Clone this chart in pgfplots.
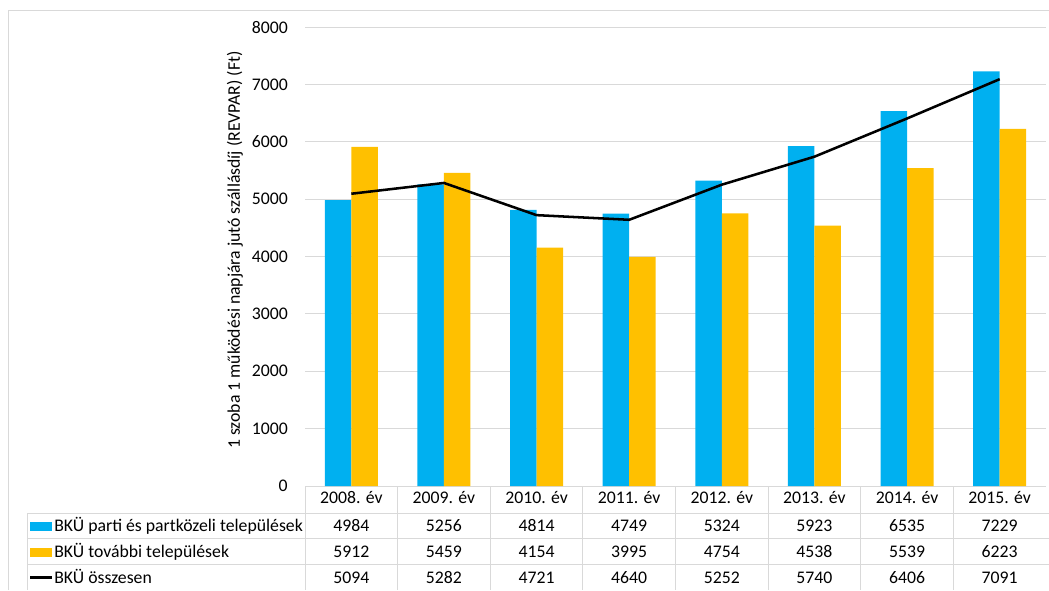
\documentclass[border=0pt]{standalone}
\usepackage{pgfplots}
\pgfplotsset{compat=1.18}
\usepackage{pgfplotstable}
\usepackage{fontspec}
\setmainfont{Carlito}

\definecolor{bkublue}{HTML}{00B0F0}
\definecolor{bkuorange}{HTML}{FFC000}
\definecolor{gridgray}{HTML}{D9D9D9}

% ev, parti, tovabbi, osszesen
\pgfplotstableread{
x a b c
0 4984 5912 5094
1 5256 5459 5282
2 4814 4154 4721
3 4749 3995 4640
4 5324 4754 5252
5 5923 4538 5740
6 6535 5539 6406
7 7229 6223 7091
}\data

\begin{document}
\begin{tikzpicture}[x=0.75pt,y=0.75pt,font=\fontsize{13.3}{16}\selectfont]
\path[use as bounding box] (0,0) rectangle (1049,590);

% chart border
\draw[gridgray,line width=0.75pt] (8.5,0) -- (8.5,579.5) -- (1049,579.5);

\begin{axis}[
  at={(228.75pt,78pt)}, anchor=south west,
  scale only axis, width=555.75pt, height=344.25pt,
  clip=false,
  xmin=-0.5, xmax=7.5, ymin=0, ymax=8000,
  xtick=data,
  xticklabels={2008. év,2009. év,2010. év,2011. év,2012. év,2013. év,2014. év,2015. év},
  ytick={0,1000,...,8000},
  ymajorgrids,
  grid style={gridgray,line width=0.75pt},
  axis line style={draw=none},
  tick style={draw=none},
  /pgf/number format/1000 sep={},
  /pgf/number format/assume math mode=true,
  yticklabel style={anchor=east,inner sep=0pt,xshift=-12.75pt},
  xticklabel style={anchor=base,inner sep=0pt,yshift=-13.1pt},
]
\addplot[ybar,bar width=0.286,bar shift=-0.143,fill=bkublue,draw=none] table[x=x,y=a] {\data};
\addplot[ybar,bar width=0.286,bar shift=0.143,fill=bkuorange,draw=none] table[x=x,y=b] {\data};
\addplot[black,line width=1.9pt,mark=none,sharp plot] table[x=x,y=c] {\data};

% data table values
\addplot[draw=none,mark=none,nodes near coords,point meta=\thisrow{a},
  every node near coord/.style={anchor=base,inner sep=0pt,yshift=-33.75pt}] table[x=x,y expr=0] {\data};
\addplot[draw=none,mark=none,nodes near coords,point meta=\thisrow{b},
  every node near coord/.style={anchor=base,inner sep=0pt,yshift=-53.25pt}] table[x=x,y expr=0] {\data};
\addplot[draw=none,mark=none,nodes near coords,point meta=\thisrow{c},
  every node near coord/.style={anchor=base,inner sep=0pt,yshift=-72.75pt}] table[x=x,y expr=0] {\data};
\end{axis}

% table grid
\begin{scope}[gridgray,line width=0.75pt]
\foreach \yy in {77,52,26} \draw (27,\yy) -- (1049,\yy);
\draw (27,77) -- (27,0);
\foreach \k in {0,...,7} \draw ({305+\k*92.625},104) -- ({305+\k*92.625},0);
\end{scope}

% legend column
\fill[bkublue] (30,59) rectangle (52,68);
\fill[bkuorange] (30,33) rectangle (52,42);
\draw[black,line width=1.9pt] (30,12.5) -- (52,12.5);
\node[anchor=base west,inner sep=0pt] at (54,59) {BKÜ parti és partközeli települések};
\node[anchor=base west,inner sep=0pt] at (54,33) {BKÜ további települések};
\node[anchor=base west,inner sep=0pt] at (54,7) {BKÜ összesen};

% y axis title
\node[rotate=90,inner sep=0pt] at (235,340) {1 szoba 1 működési napjára jutó szállásdíj (REVPAR) (Ft)};
\end{tikzpicture}
\end{document}
